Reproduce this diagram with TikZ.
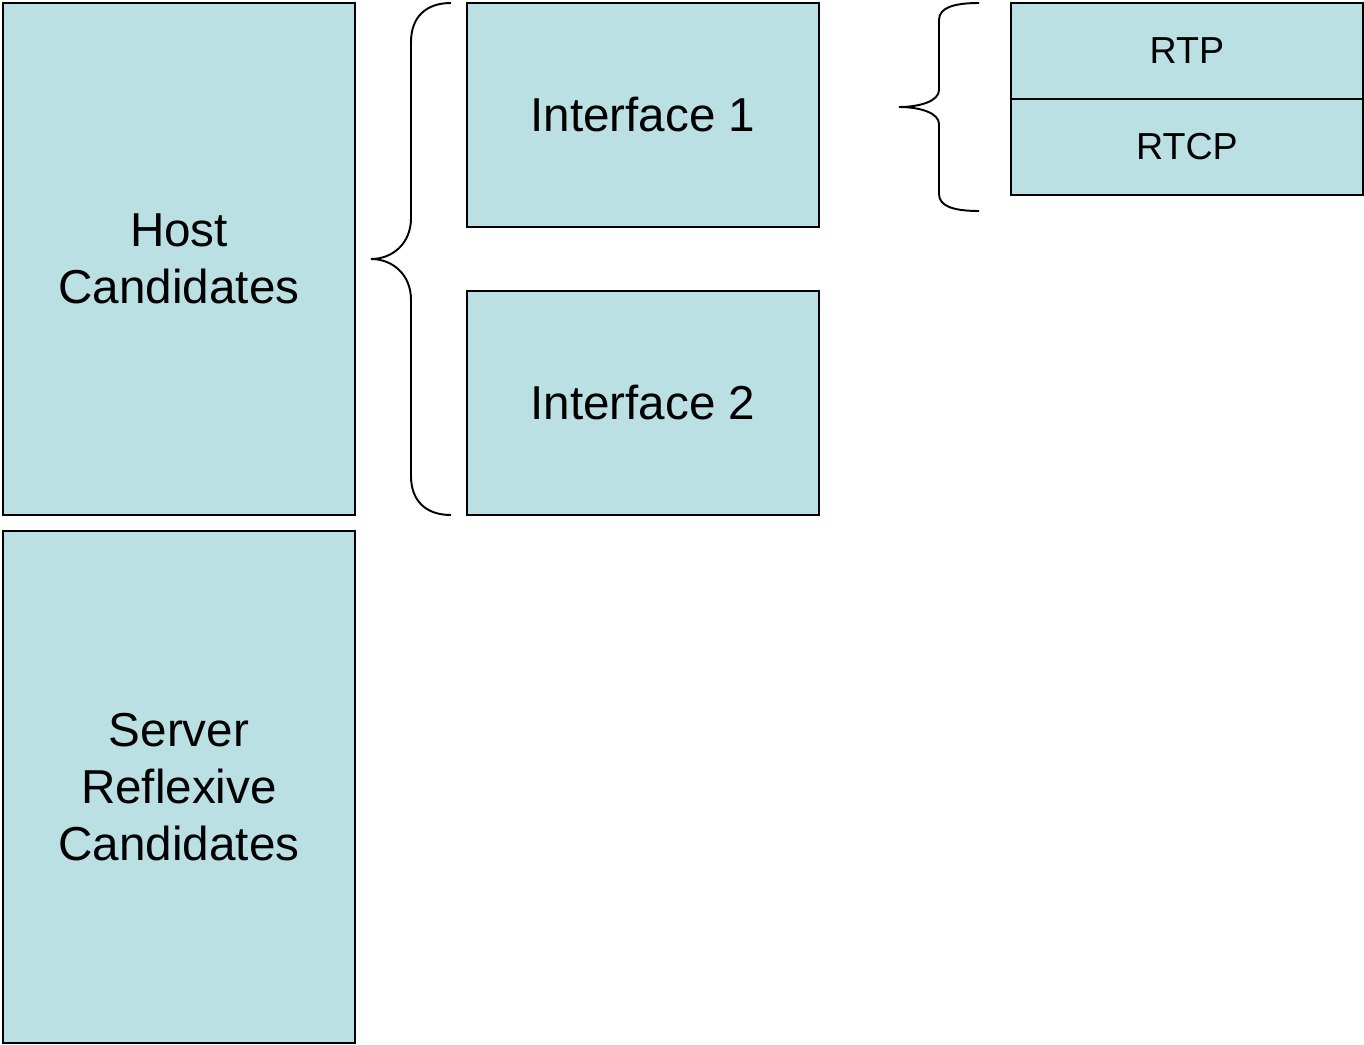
\documentclass[tikz,border=0pt]{standalone}
\usepackage{fontspec}
\setmainfont{Liberation Sans}
\definecolor{boxfill}{HTML}{BAE0E3}
\begin{document}
\begin{tikzpicture}[x=0.02cm,y=-0.02cm,
  box/.style={draw=black,fill=boxfill,line width=1.1pt,inner sep=0pt,outer sep=0pt,anchor=north west,align=center},
  bigtext/.style={font=\fontsize{27.1}{32.5}\selectfont},
  smalltext/.style={font=\fontsize{21.4}{24}\selectfont},
  bracestyle/.style={draw=black,line width=1.1pt}]
\useasboundingbox (0,0) rectangle (1364,1044);
\node[box,bigtext,minimum width=7.04cm,minimum height=10.24cm] (host) at (3,3) {Host\\Candidates};
\node[box,bigtext,minimum width=7.04cm,minimum height=10.24cm] (srflx) at (3,531) {Server\\Reflexive\\Candidates};
\node[box,bigtext,minimum width=7.04cm,minimum height=4.48cm] (if1) at (467,3) {Interface 1};
\node[box,bigtext,minimum width=7.04cm,minimum height=4.48cm] (if2) at (467,291) {Interface 2};
\node[box,smalltext,minimum width=7.04cm,minimum height=1.92cm] (rtp) at (1011,3) {RTP};
\node[box,smalltext,minimum width=7.04cm,minimum height=1.92cm] (rtcp) at (1011,99) {RTCP};
\coordinate (b1tip) at (371,259);
\coordinate (b2tip) at (899,107);
\draw[bracestyle] (451,3) .. controls (425,3) and (411,18) .. (411,42) -- (411,218)
  .. controls (411,244) and (392,259) .. (b1tip)
  .. controls (392,259) and (411,274) .. (411,300) -- (411,476)
  .. controls (411,500) and (425,515) .. (451,515);
\draw[bracestyle] (979,3) .. controls (953,3) and (939,8) .. (939,20) -- (939,90)
  .. controls (939,101) and (920,107) .. (b2tip)
  .. controls (920,107) and (939,113) .. (939,124) -- (939,194)
  .. controls (939,206) and (953,211) .. (979,211);
\end{tikzpicture}
\end{document}
